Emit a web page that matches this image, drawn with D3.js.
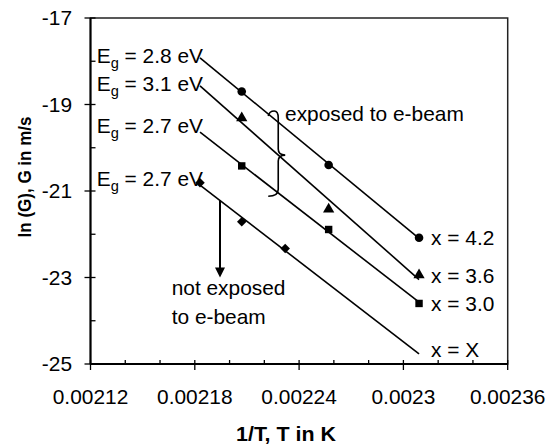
<!DOCTYPE html>
<html lang="en">
	<head>
		<meta charset="utf-8">
		<title>ln(G) vs 1/T</title>
		<script src="https://d3js.org/d3.v7.min.js"></script>
		<style type="text/css">
            body { margin: 0; background: #fff; }
            text { font-family: Arial, "Liberation Sans", sans-serif; fill: #000; }
		</style>
	</head>
	<body>
        <svg></svg>
		<script type="text/javascript">

			// data (x = 1/T, y = ln G)
			var xTicks = [0.00212, 0.00218, 0.00224, 0.0023, 0.00236];
			var yTicks = [-17, -19, -21, -23, -25];
			var xExposed = [0.002207, 0.002257, 0.002309];
			var yX42 = [-18.70, -20.40, -22.08];
			var yX36 = [-19.31, -21.42, -22.94];
			var yX30 = [-20.42, -21.89, -23.60];
			var xUnexposed = [0.002183, 0.002207, 0.002232];
			var yXX = [-20.81, -21.71, -22.33];
			var fitRange = [0.002183, 0.002309];
			var seriesNames = ["x = 4.2", "x = 3.6", "x = 3.0", "x = X"];
			var egValues = ["2.8", "3.1", "2.7", "2.7"];
			var markers = ["circle", "triangle", "square", "diamond"];

			var w = 547, h = 444;
			var FS = 20;
			var SX = 1.045; // text in the figure is a bit wide

			var svg = d3.select("svg").attr("width", w).attr("height", h);

			var x = d3.scaleLinear().domain([0.00212, 0.00236]).range([90.5, 507.7]);
			var y = d3.scaleLinear().domain([-25, -17]).range([364, 18]);

			function fit(xs, ys) {
				var mx = d3.mean(xs), my = d3.mean(ys);
				var sxy = d3.sum(xs, (d, i) => (d - mx) * (ys[i] - my));
				var sxx = d3.sum(xs, d => (d - mx) * (d - mx));
				var b = sxy / sxx;
				return v => my + b * (v - mx);
			}

			function txt(px, py, str, size, anchor, weight) {
				return svg.append("text")
					.attr("transform", `translate(${px},${py}) scale(${SX},1)`)
					.attr("font-size", size)
					.attr("font-weight", weight || "normal")
					.attr("text-anchor", anchor || "start")
					.text(str);
			}

			var series = [
				{xs: xExposed, ys: yX42},
				{xs: xExposed, ys: yX36},
				{xs: xExposed, ys: yX30},
				{xs: xUnexposed, ys: yXX}
			];

			// frame
			svg.append("rect")
				.attr("x", x.range()[0]).attr("y", y.range()[1])
				.attr("width", x.range()[1] - x.range()[0])
				.attr("height", y.range()[0] - y.range()[1])
				.attr("fill", "none").attr("stroke", "#222").attr("stroke-width", 1.5);

			// axes: major ticks cross, minor inside
			var xAxis = svg.append("g").attr("transform", `translate(0,${y(-25)})`);
			xAxis.append("line").attr("x1", x.range()[0]).attr("x2", x.range()[1]).attr("stroke", "#000").attr("stroke-width", 2);
			d3.range(0.00212, 0.002361, 0.00002).forEach((v, i) => {
				var major = i % 3 === 0;
				xAxis.append("line").attr("x1", x(v)).attr("x2", x(v))
					.attr("y1", -4).attr("y2", major ? 6 : 0)
					.attr("stroke", "#000").attr("stroke-width", 1.3);
			});
			xTicks.forEach(v => txt(x(v), 403.5, d3.format("")(+v.toFixed(5)), FS, "middle"));

			var yAxis = svg.append("g").attr("transform", `translate(${x(0.00212)},0)`);
			yAxis.append("line").attr("y1", y.range()[0]).attr("y2", y.range()[1]).attr("stroke", "#000").attr("stroke-width", 2);
			d3.range(-25, -16.9, 1).forEach((v, i) => {
				var major = i % 2 === 0;
				yAxis.append("line").attr("y1", y(v)).attr("y2", y(v))
					.attr("x1", major ? -6 : 0).attr("x2", 5)
					.attr("stroke", "#000").attr("stroke-width", 1.3);
			});
			yTicks.forEach(v => txt(72, y(v) + 7, String(v), FS, "end"));

			// axis titles
			txt(286, 440.5, "1/T, T in K", 20.5, "middle", "bold");
			svg.append("text")
				.attr("transform", `translate(31,177) rotate(-90) scale(1,1.1)`)
				.attr("font-size", 17).attr("font-weight", "bold")
				.attr("text-anchor", "middle")
				.text("ln (G), G in m/s");

			// trend lines
			series.forEach((s, i) => {
				var f = fit(s.xs, s.ys);
				s.f = f;
				svg.append("line")
					.attr("x1", x(fitRange[0])).attr("y1", y(f(fitRange[0])))
					.attr("x2", x(fitRange[1])).attr("y2", y(f(fitRange[1])))
					.attr("stroke", "#000").attr("stroke-width", 1.6);
			});

			// markers
			var sym = {
				circle: d3.symbol().type(d3.symbolCircle).size(58),
				triangle: d3.symbol().type(d3.symbolTriangle).size(55),
				square: d3.symbol().type(d3.symbolSquare).size(55),
				diamond: d3.symbol().type(d3.symbolSquare).size(45)
			};
			series.forEach((s, i) => {
				svg.selectAll(null).data(s.xs).enter()
					.append("path")
					.attr("d", sym[markers[i]])
					.attr("transform", (d, j) => `translate(${x(d)},${y(s.ys[j])})` + (markers[i] === "diamond" ? " rotate(45)" : ""))
					.attr("fill", "#000");
			});

			// E_g labels at the start of each line
			series.forEach((s, i) => {
				var t = svg.append("text")
					.attr("transform", `translate(96.7,${y(s.f(fitRange[0])) + [5, 5, 1, 1][i]}) scale(${SX},1)`)
					.attr("font-size", FS);
				t.append("tspan").text("E");
				t.append("tspan").attr("font-size", 14).attr("dy", 5).text("g");
				t.append("tspan").attr("dy", -5).text(` = ${egValues[i]} eV`);
			});

			// series labels on the right
			var nameY = [-22.25, -23.12, -23.77, -24.83];
			seriesNames.forEach((n, i) => txt(x(0.0023159), y(nameY[i]), n, FS, "start"));

			// brace for the exposed samples
			var bx = x(0.002228), bt = y(-19.15), bm = y(-20.17), bb = y(-21.12);
			svg.append("path")
				.attr("d", `M${bx - 10},${bt + 5} Q${bx - 9},${bt} ${bx - 4},${bt} Q${bx},${bt} ${bx},${bt + 7}` +
					` L${bx},${bm - 6} Q${bx},${bm} ${bx + 7},${bm} Q${bx},${bm} ${bx},${bm + 6}` +
					` L${bx},${bb - 7} Q${bx},${bb} ${bx - 10},${bb}`)
				.attr("fill", "none").attr("stroke", "#000").attr("stroke-width", 1.6);
			txt(x(0.0022319), y(-19.39), "exposed to e-beam", FS, "start");

			// arrow for the unexposed sample
			var ax = 0.0021945, fx = series[3].f;
			svg.append("line")
				.attr("x1", x(ax)).attr("y1", y(fx(ax)))
				.attr("x2", x(ax)).attr("y2", y(-23.0) - 9)
				.attr("stroke", "#000").attr("stroke-width", 2);
			svg.append("path")
				.attr("d", `M${x(ax) - 5},${y(-23.0) - 10} L${x(ax) + 5},${y(-23.0) - 10} L${x(ax)},${y(-23.0)} Z`)
				.attr("fill", "#000");
			txt(x(0.0021667), y(-23.40), "not exposed", FS, "start");
			txt(x(0.0021667), y(-24.07), "to e-beam", FS, "start");

		</script>
	</body>
</html>
